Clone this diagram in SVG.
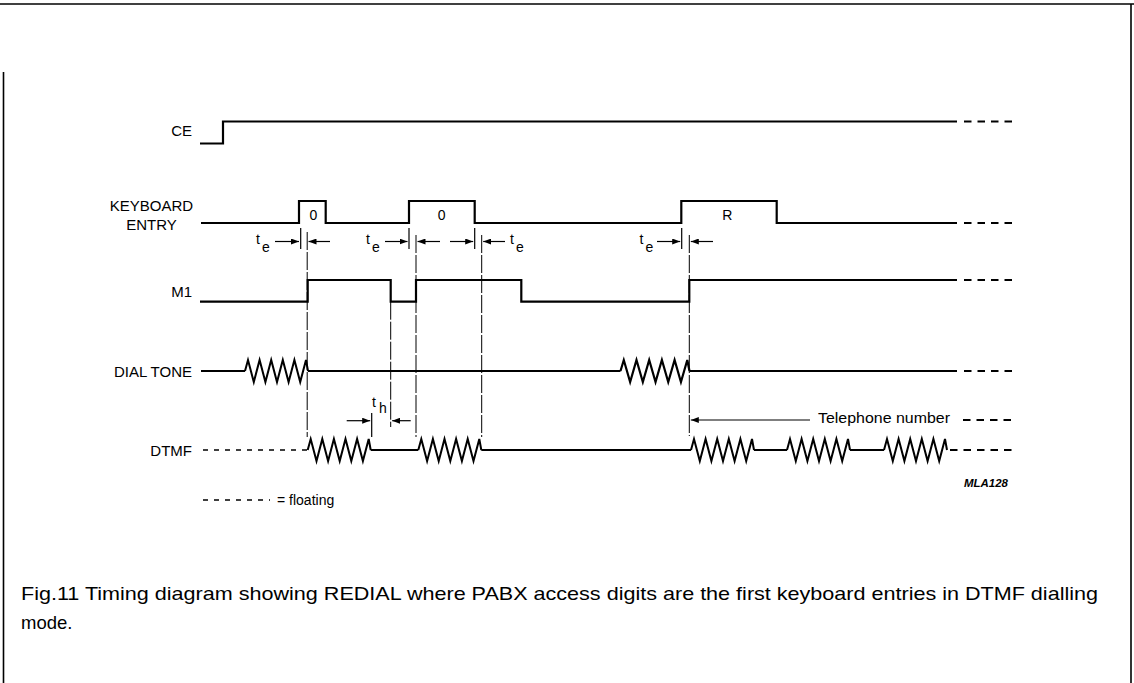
<svg xmlns="http://www.w3.org/2000/svg" xmlns:xlink="http://www.w3.org/1999/xlink" width="1134" height="683" viewBox="0 0 1134 683">
<style>
  .sig { fill: none; stroke: #000; stroke-width: 2.2; stroke-linejoin: miter; }
  .dash { fill: none; stroke: #000; stroke-width: 2; stroke-dasharray: 7.5 6; }
  .ldash { fill: none; stroke: #000; stroke-width: 1.6; stroke-dasharray: 5 6; }
  .guide { fill: none; stroke: #000; stroke-width: 1; stroke-dasharray: 18 2; }
  .tick { fill: none; stroke: #000; stroke-width: 1.2; }
  .arr { fill: none; stroke: #000; stroke-width: 1.2; marker-end: url(#ah); }
  .lbl { font-family: "Liberation Sans", Arial, sans-serif; font-size: 15px; fill: #000; }
  .sm { font-family: "Liberation Sans", Arial, sans-serif; font-size: 14px; fill: #000; }
  .cap { font-family: "Liberation Sans", Arial, sans-serif; font-size: 18.5px; fill: #000; }
  .border { fill: none; stroke: #000; stroke-width: 1.6; }
</style>
<defs>
  <marker id="ah" viewBox="0 0 8 6" refX="8" refY="3" markerWidth="8" markerHeight="6" markerUnits="userSpaceOnUse" orient="auto">
    <path d="M0,0 L8,3 L0,6 z" fill="#000"/>
  </marker>
  <path id="zig" d="M0 0 L3 -11 L8.8 11 L14.6 -11 L20.4 11 L26.2 -11 L32 11 L37.8 -11 L43.6 11 L49.4 -11 L55.2 11 L61 -11 L63 0" fill="none" stroke="#000" stroke-width="2" stroke-linejoin="miter"/>
</defs>

<g id="border">
  <line class="border" x1="0" y1="4" x2="1134" y2="4" stroke-width="2.4"/>
  <line class="border" x1="3.5" y1="72" x2="3.5" y2="683"/>
  <line class="border" x1="1131" y1="4" x2="1131" y2="683"/>
</g>

<g id="ce">
  <text class="lbl" x="192" y="136" text-anchor="end">CE</text>
  <path class="sig" d="M200 143.5 H223 V121.5 H957"/>
  <line class="dash" x1="964" y1="121.5" x2="1016" y2="121.5"/>
</g>

<g id="keyboard-entry">
  <text class="lbl" x="151.5" y="211" text-anchor="middle">KEYBOARD</text>
  <text class="lbl" x="151.5" y="230" text-anchor="middle">ENTRY</text>
  <path class="sig" d="M201 223 H299 V201 H325.7 V223 H409 V201 H474.7 V223 H681.3 V201 H776.7 V223 H957"/>
  <line class="dash" x1="964" y1="223" x2="1016" y2="223"/>
  <text class="sm" x="313.3" y="220" text-anchor="middle">0</text>
  <text class="sm" x="441.7" y="220" text-anchor="middle">0</text>
  <text class="sm" x="727.3" y="219.5" text-anchor="middle">R</text>
</g>

<g id="m1">
  <text class="lbl" x="192" y="297" text-anchor="end">M1</text>
  <path class="sig" d="M200 301.7 H307.7 V280 H390.7 V301.7 H416 V280 H521.3 V301.7 H689.3 V280 H957"/>
  <line class="dash" x1="964" y1="280" x2="1016" y2="280"/>
</g>

<g id="dial-tone">
  <text class="lbl" x="192" y="376.7" text-anchor="end">DIAL TONE</text>
  <path class="sig" d="M201 371 H245 M308 371 H620.5 M689.5 371 H957"/>
  <use xlink:href="#zig" href="#zig" transform="translate(245,371)"/>
  <use xlink:href="#zig" href="#zig" transform="translate(620.5,371) scale(1.095,1)"/>
  <line class="dash" x1="964" y1="371" x2="1016" y2="371"/>
</g>

<g id="dtmf">
  <text class="lbl" x="192" y="455.7" text-anchor="end">DTMF</text>
  <line class="ldash" x1="203" y1="450" x2="307.7" y2="450"/>
  <path class="sig" d="M370.7 450 H418.3 M481.3 450 H691 M754 450 H787 M850 450 H884"/>
  <use xlink:href="#zig" href="#zig" transform="translate(307.7,450)"/>
  <use xlink:href="#zig" href="#zig" transform="translate(418.3,450)"/>
  <use xlink:href="#zig" href="#zig" transform="translate(691,450)"/>
  <use xlink:href="#zig" href="#zig" transform="translate(787,450)"/>
  <use xlink:href="#zig" href="#zig" transform="translate(884,450)"/>
  <line class="dash" x1="950" y1="450" x2="1016" y2="450"/>
</g>

<g id="connectors">
  <line class="guide" x1="307.2" y1="232" x2="307.2" y2="437"/>
  <line class="guide" x1="416" y1="235" x2="416" y2="437"/>
  <line class="guide" x1="481.7" y1="235" x2="481.7" y2="437"/>
  <line class="guide" x1="390.7" y1="301.7" x2="390.7" y2="427"/>
  <line class="guide" x1="689.3" y1="235" x2="689.3" y2="436"/>
  <line class="tick" x1="300.7" y1="228" x2="300.7" y2="249"/>
  <line class="tick" x1="409" y1="228" x2="409" y2="249"/>
  <line class="tick" x1="474.7" y1="228" x2="474.7" y2="249"/>
  <line class="tick" x1="681.7" y1="228" x2="681.7" y2="249"/>
  <line class="tick" x1="371.7" y1="413" x2="371.7" y2="437"/>
  <line class="arr" x1="275" y1="241.5" x2="299" y2="241.5"/>
  <line class="arr" x1="330" y1="241.5" x2="308.5" y2="241.5"/>
  <line class="arr" x1="385" y1="241.5" x2="407.5" y2="241.5"/>
  <line class="arr" x1="440" y1="241.5" x2="417.5" y2="241.5"/>
  <line class="arr" x1="450" y1="241.5" x2="473.2" y2="241.5"/>
  <line class="arr" x1="505" y1="241.5" x2="483.2" y2="241.5"/>
  <line class="arr" x1="657" y1="241.5" x2="680.2" y2="241.5"/>
  <line class="arr" x1="713" y1="241.5" x2="690.8" y2="241.5"/>
  <line class="arr" x1="346.7" y1="420.7" x2="370.2" y2="420.7"/>
  <line class="arr" x1="410.7" y1="420.7" x2="392.2" y2="420.7"/>
  <line class="arr" x1="810" y1="420" x2="690.8" y2="420"/>
</g>

<g id="timing-labels">
  <text class="sm" x="256" y="243.5">t</text><text class="sm" x="262" y="252">e</text>
  <text class="sm" x="366" y="243.5">t</text><text class="sm" x="372" y="252">e</text>
  <text class="sm" x="510" y="243.5">t</text><text class="sm" x="516" y="252">e</text>
  <text class="sm" x="639.5" y="243.5">t</text><text class="sm" x="645.5" y="252">e</text>
  <text class="sm" x="372" y="407">t</text><text class="sm" x="379" y="413">h</text>
  <text class="sm" x="818" y="423" textLength="132" lengthAdjust="spacingAndGlyphs">Telephone number</text>
  <line class="dash" x1="963" y1="420" x2="1012" y2="420" stroke-width="1.6"/>
</g>

<g id="legend">
  <line class="ldash" x1="203" y1="500" x2="270" y2="500" stroke-dasharray="8 6.5"/>
  <text class="sm" x="277" y="505" font-size="13">= floating</text>
  <text x="964" y="487" font-family="Liberation Sans, Arial, sans-serif" font-size="11" font-weight="bold" font-style="italic" textLength="44" lengthAdjust="spacingAndGlyphs">MLA128</text>
</g>

<g id="caption">
  <text class="cap" x="21" y="600" textLength="1077" lengthAdjust="spacingAndGlyphs">Fig.11 Timing diagram showing REDIAL where PABX access digits are the first keyboard entries in DTMF dialling</text>
  <text class="cap" x="21" y="629">mode.</text>
</g>
</svg>
